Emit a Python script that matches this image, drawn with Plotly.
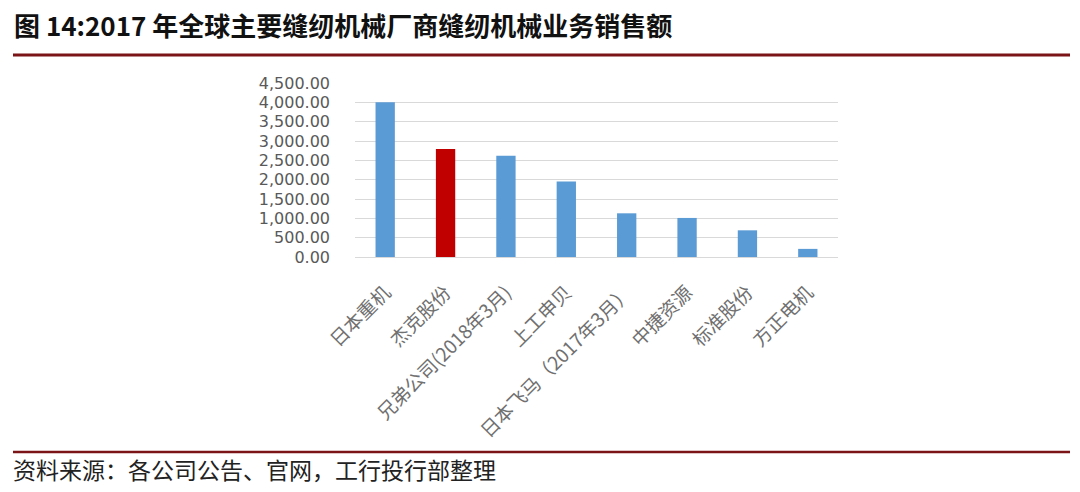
import plotly.graph_objects as go

W, H = 1080, 492

# data
companies = ["日本重机", "杰克股份", "兄弟公司(2018年3月)", "上工申贝",
             "日本飞马（2017年3月）", "中捷资源", "标准股份", "方正电机"]
sales = [4000, 2790, 2620, 1950, 1130, 1010, 690, 210]
highlight = "杰克股份"

title_text = "图 14:2017 年全球主要缝纫机械厂商缝纫机械业务销售额"
source_text = "资料来源：各公司公告、官网，工行投行部整理"

# plot area in pixels
left, right, top, bottom = 355, 838, 83, 257
ml, mr, mt, mb = left, W - right, top, H - bottom


def px_x(x):
    return (x - left) / (right - left)


def px_y(y):
    return (bottom - y) / (bottom - top)


colors = ["#C00000" if c == highlight else "#5B9BD5" for c in companies]

fig = go.Figure(go.Bar(
    x=companies,
    y=sales,
    marker=dict(color=colors, line=dict(width=0)),
    width=0.32,
))

fig.update_layout(
    width=W, height=H,
    margin=dict(l=ml, r=mr, t=mt, b=mb),
    paper_bgcolor="white",
    plot_bgcolor="white",
    showlegend=False,
    font=dict(family="Noto Sans CJK SC", color="#595959"),
    xaxis=dict(
        tickangle=-45, automargin=False,
        tickfont=dict(size=19, color="#707070", family="Noto Sans CJK SC"),
        showline=True, linecolor="#D9D9D9", linewidth=1,
        showgrid=False, ticks="", ticklabelstandoff=16,
    ),
    yaxis=dict(
        range=[0, 4500], dtick=500, tickformat=",.2f", automargin=False,
        tickfont=dict(size=16, color="#595959", family="DejaVu Sans"),
        showgrid=True, gridcolor="#D9D9D9", gridwidth=1,
        zeroline=False, showline=False, ticks="", ticklabelstandoff=24,
    ),
)

# title and red rules
fig.add_annotation(
    text="<b>" + title_text + "</b>", xref="paper", yref="paper",
    x=px_x(12), y=px_y(24), xanchor="left", yanchor="middle",
    showarrow=False, font=dict(size=26, color="#111111", family="Noto Sans CJK SC"),
)
fig.add_shape(type="line", xref="paper", yref="paper",
              x0=px_x(13), x1=px_x(1070), y0=px_y(55), y1=px_y(55),
              line=dict(color="#7B1416", width=3))
fig.add_shape(type="line", xref="paper", yref="paper",
              x0=px_x(13), x1=px_x(1070), y0=px_y(452), y1=px_y(452),
              line=dict(color="#7B1416", width=2.5))
fig.add_annotation(
    text=source_text, xref="paper", yref="paper",
    x=px_x(11), y=px_y(469), xanchor="left", yanchor="middle",
    showarrow=False, font=dict(size=23, color="#222222", family="Noto Sans CJK SC"),
)

# page has a default 8px body margin, drop it so the figure fills the window
fig.write_html("out.html", config={"displayModeBar": False},
               post_script="document.body.style.margin='0px';")
